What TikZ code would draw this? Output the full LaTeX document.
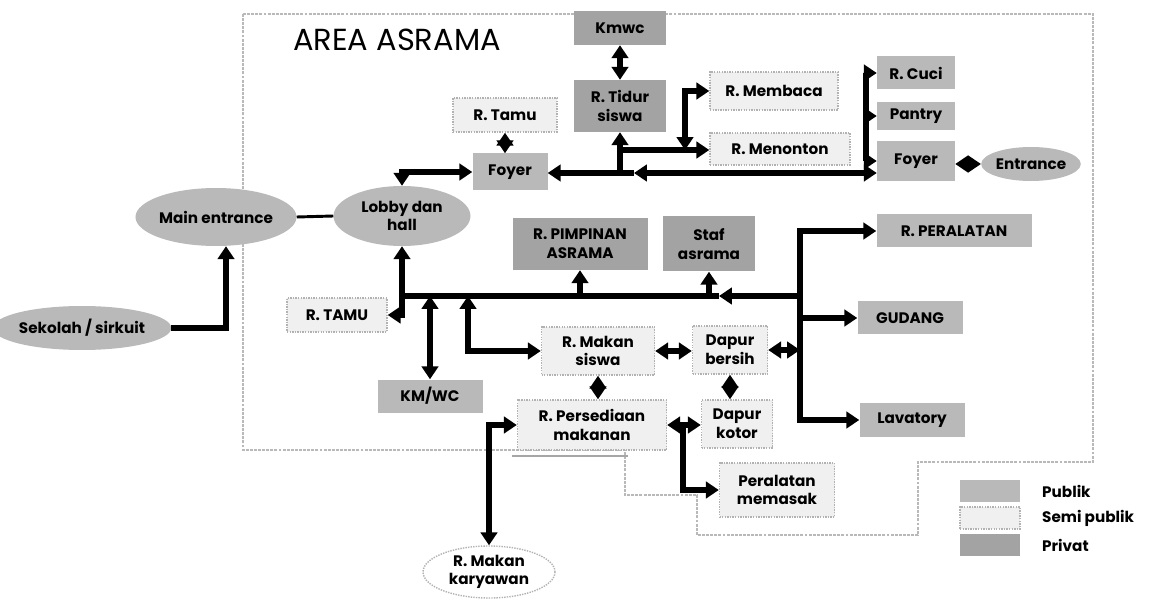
\documentclass[tikz,border=0pt]{standalone}
\usepackage{fontspec}
\setmainfont{Poppins}
\usetikzlibrary{shapes.geometric, arrows.meta, positioning}

\tikzset{
  room/.style={rectangle, inner sep=1pt, align=center, font=\bfseries\fontsize{13}{16}\selectfont},
  publik/.style={room, fill=gray!55},
  semi/.style={room, fill=gray!12, draw=gray!60, densely dotted, line width=1.2pt},
  privat/.style={room, fill=gray!72},
  oval/.style={ellipse},
  sz/.style 2 args={minimum width=#1*0.3mm, minimum height=#2*0.3mm},
  link/.style={line width=4.5pt},
  border/.style={gray!55, densely dotted, line width=2.5pt},
}

\begin{document}
\begin{tikzpicture}[x=0.3mm, y=-0.3mm, >={Triangle[length=11pt,width=14pt]}]
    \useasboundingbox (0,0) rectangle (1154,600);

    \draw[border] (243,14) -- (1093,14) -- (1093,462) -- (918,462) -- (918,535)
        -- (697,535) -- (697,495) -- (625,495) -- (625,450) -- (243,450) -- cycle;
    \draw[gray!70, line width=1pt] (512,456) -- (628,456);

    \node[font=\fontsize{26}{26}\selectfont] (area) at (397,40) {AREA ASRAMA};

    \node[privat, sz={92}{34}] (kmwc) at (620,28) {Kmwc};
    \node[privat, sz={92}{52}] (tidur) at (620,106) {R. Tidur\\siswa};
    \node[semi, sz={104}{34}] (tamuA) at (505,115) {R. Tamu};
    \node[publik, sz={75}{37}] (foyerA) at (510,172) {Foyer};
    \node[semi, sz={128}{38}] (membaca) at (774,91) {R. Membaca};
    \node[semi, sz={140}{32}] (menonton) at (780,149) {R. Menonton};
    \node[publik, sz={78}{33}] (cuci) at (916,73) {R. Cuci};
    \node[publik, sz={78}{28}] (pantry) at (916,116) {Pantry};
    \node[publik, sz={78}{40}] (foyerB) at (916,161) {Foyer};
    \node[publik, oval, sz={93}{34}, inner sep=0pt] (entrance) at (1031,164) {Entrance};

    \node[publik, oval, sz={155}{58}, inner sep=0pt] (mainent) at (216,217) {Main entrance};
    \node[publik, oval, sz={137}{60}, inner sep=0pt] (lobby) at (402,216) {Lobby dan\\hall};
    \node[publik, oval, sz={150}{44}, inner sep=0pt] (sekolah) at (82,328) {Sekolah / sirkuit};
    \node[semi, sz={100}{34}] (tamuB) at (337,315) {R. TAMU};

    \node[privat, sz={135}{52}] (pimpinan) at (580,244) {R. PIMPINAN\\ASRAMA};
    \node[privat, sz={92}{55}] (staf) at (709,244) {Staf\\asrama};
    \node[semi, sz={113}{48}] (makan) at (598,351) {R. Makan\\siswa};
    \node[semi, sz={75}{48}] (dapurB) at (730,350) {Dapur\\bersih};
    \node[publik, sz={105}{33}] (kmwcB) at (430,396) {KM/WC};
    \node[semi, sz={149}{50}] (sedia) at (592,425) {R. Persediaan\\makanan};
    \node[semi, sz={71}{48}] (dapurK) at (737,424) {Dapur\\kotor};
    \node[semi, sz={115}{54}] (alat) at (777,490) {Peralatan\\memasak};
    \node[semi, oval, fill=white, sz={132}{52}, inner sep=0pt] (karyawan) at (489,572) {R. Makan\\karyawan};

    \node[publik, sz={155}{33}] (peralatan) at (954,231) {R. PERALATAN};
    \node[publik, sz={105}{33}] (gudang) at (910,318) {GUDANG};
    \node[publik, sz={105}{34}] (lavatory) at (912,420) {Lavatory};

    \coordinate (ja) at (620,173);
    \coordinate (jb) at (634,173);
    \coordinate (jc) at (620,150);
    \coordinate (jd) at (685,150);
    \coordinate (bk) at (866,73);
    \coordinate (kr) at (800,296);
    \coordinate (ke) at (719,296);
    \coordinate (jm) at (468,296);
    \coordinate (jp) at (683,425);

    \draw[link,->] (sekolah.east) -| ([xshift=3mm]mainent.south);
    \draw[line width=2.5pt] (mainent.east) -- (lobby.west);
    \draw[link,<->] (lobby.north) |- (foyerA.west);
    \draw[link,<->] (tamuA.south) -- (tamuA.south |- foyerA.north);
    \draw[link,<->] (kmwc.south) -- (tidur.north);

    \draw[link,<->] (foyerB.west |- ja) -- (jb);
    \draw[link,->] (jb) -- (foyerA.east |- ja);
    \draw[link,->] (ja) -- (tidur.south);
    \draw[link,->] (jc) -- (jc -| menonton.west);
    \draw[link,<->] (jd) |- (membaca.west);

    \draw[link,<->] (cuci.west) -- (bk) -- (bk |- foyerB.west) -- (foyerB.west);
    \draw[link,->] (bk |- pantry.west) -- (pantry.west);
    \draw[link,<->] (foyerB.east |- entrance.west) -- (entrance.west);

    \draw[link,<->] (lobby.south) |- (tamuB.east);
    \draw[link,->] (kr) -- (ke);
    \draw[link] (ke) -- (lobby.south |- kr);
    \draw[link,->] (pimpinan.south |- kr) -- (pimpinan.south);
    \draw[link,->] (staf.south |- kr) -- (staf.south);
    \draw[link,<->] (kmwcB.north |- kr) -- (kmwcB.north);
    \draw[link,<->] (jm) |- (makan.west);

    \draw[link,<->] (peralatan.west) -| (kr) |- (lavatory.west);
    \draw[link,->] (kr |- gudang.west) -- (gudang.west);
    \draw[link,<->] (dapurB.east) -- (dapurB.east -| kr);

    \draw[link,<->] (makan.east) -- (makan.east -| dapurB.west);
    \draw[link,<->] (makan.south) -- (makan.south |- sedia.north);
    \draw[link,<->] (dapurB.south) -- (dapurB.south |- dapurK.north);
    \draw[link,<->] (sedia.east) -- (sedia.east -| dapurK.west);
    \draw[link,->] (jp) |- (alat.west);
    \draw[link,<->] (sedia.west) -| (karyawan.north);

    \foreach \s/\t [count=\i] in {publik/Publik, semi/Semi publik, privat/Privat} {
        \node[\s, sz={60}{22}] (key\i) at (990,464+27*\i) {};
        \node[anchor=west, font=\bfseries\fontsize{13}{14}\selectfont] (lab\i) at (1038,464+27*\i) {\t};
    }
\end{tikzpicture}
\end{document}
